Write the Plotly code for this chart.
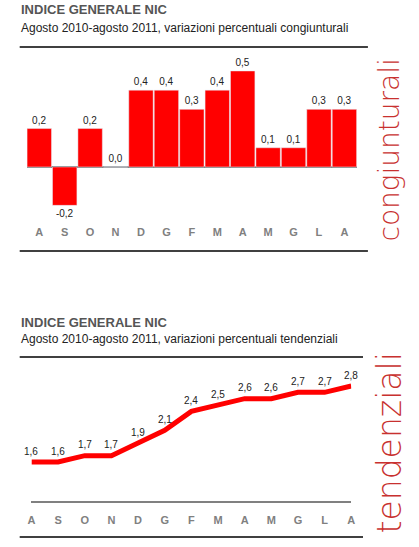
import plotly.graph_objects as go

# dati
mesi = ["A", "S", "O", "N", "D", "G", "F", "M", "A", "M", "G", "L", "A"]
congiunturali = [0.2, -0.2, 0.2, 0.0, 0.4, 0.4, 0.3, 0.4, 0.5, 0.1, 0.1, 0.3, 0.3]
tendenziali = [1.6, 1.6, 1.7, 1.7, 1.9, 2.1, 2.4, 2.5, 2.6, 2.6, 2.7, 2.7, 2.8]
pos = list(range(len(mesi)))

titolo = "INDICE GENERALE NIC"
sotto1 = "Agosto 2010-agosto 2011, variazioni percentuali congiunturali"
sotto2 = "Agosto 2010-agosto 2011, variazioni percentuali tendenziali"

W, H = 419, 547
ROSSO = "#ff0000"
GRIGIO = "#808080"
FONT = "Liberation Sans, Arial, sans-serif"


def py(px):
    # pixel dall'alto -> coordinata paper
    return 1 - px / H


def pxx(px):
    return px / W


fig = go.Figure()

# grafico a barre congiunturali
fig.add_trace(go.Bar(
    x=pos, y=congiunturali, marker_color=ROSSO,
    texttemplate="%{y:.1f}", textposition="outside",
    textfont=dict(size=10, color="#222222", family=FONT),
    cliponaxis=False, xaxis="x", yaxis="y", showlegend=False,
))

# linea tendenziali
fig.add_trace(go.Scatter(
    x=pos, y=tendenziali, mode="lines",
    line=dict(color=ROSSO, width=5),
    cliponaxis=False, xaxis="x2", yaxis="y2", showlegend=False,
))

# etichette sopra la linea
for i, v in zip(pos, tendenziali):
    fig.add_annotation(x=i, y=v, xref="x2", yref="y2", text=f"{v:.1f}".replace(".", ","),
                       showarrow=False, yshift=11,
                       font=dict(size=10, color="#222222", family=FONT))

asse_mesi = dict(
    tickmode="array", tickvals=pos, ticktext=mesi,
    tickfont=dict(size=11, color=GRIGIO, family=FONT, weight="bold"),
    showgrid=False, zeroline=False, ticks="",
)

fig.update_layout(
    width=W, height=H,
    margin=dict(l=0, r=0, t=0, b=0),
    paper_bgcolor="white", plot_bgcolor="white",
    separators=",.",
    bargap=0.04,
    font=dict(family=FONT),
    xaxis=dict(asse_mesi, domain=[pxx(23), pxx(360)], range=[-0.5, 12.5],
               anchor="y", showline=False),
    yaxis=dict(domain=[py(224), py(60)], range=[-0.297, 0.557],
               visible=True, showticklabels=False, showgrid=False,
               zeroline=True, zerolinecolor=GRIGIO, zerolinewidth=2),
    xaxis2=dict(asse_mesi, domain=[pxx(28), pxx(354)], range=[0, 12],
                anchor="y2", showline=True, linecolor=GRIGIO, linewidth=2,
                ticklabelstandoff=8),
    yaxis2=dict(domain=[py(501), py(365)], range=[0.984, 3.132],
                showticklabels=False, showgrid=False, zeroline=False),
)

# righe nere orizzontali
for y0, x1 in [(47, 371), (251, 371), (357, 366), (537, 366)]:
    fig.add_shape(type="line", xref="paper", yref="paper",
                  x0=pxx(16), x1=pxx(x1), y0=py(y0), y1=py(y0),
                  line=dict(color="black", width=1.5))

# titoli
for ytit, ysub, sub in [(10, 28, sotto1), (322, 339, sotto2)]:
    fig.add_annotation(text=titolo, xref="paper", yref="paper",
                       x=pxx(15), y=py(ytit), xanchor="left", yanchor="middle",
                       showarrow=False,
                       font=dict(size=13, color="#555555", family=FONT, weight="bold"))
    fig.add_annotation(text=sub, xref="paper", yref="paper",
                       x=pxx(15), y=py(ysub), xanchor="left", yanchor="middle",
                       showarrow=False,
                       font=dict(size=12, color="#222222", family=FONT))

# scritte verticali
for testo, yc, size in [("congiunturali", 150, 28), ("tendenziali", 443, 33)]:
    fig.add_annotation(text=testo, xref="paper", yref="paper",
                       x=pxx(393), y=py(yc), xanchor="center", yanchor="middle",
                       textangle=-90, showarrow=False,
                       font=dict(size=size, color="#c8312f",
                                 family="DejaVu Sans, sans-serif", weight=200))

fig.write_html("out.html", config={"displayModeBar": False},
               post_script="document.body.style.margin='0';document.body.style.overflow='hidden';")
